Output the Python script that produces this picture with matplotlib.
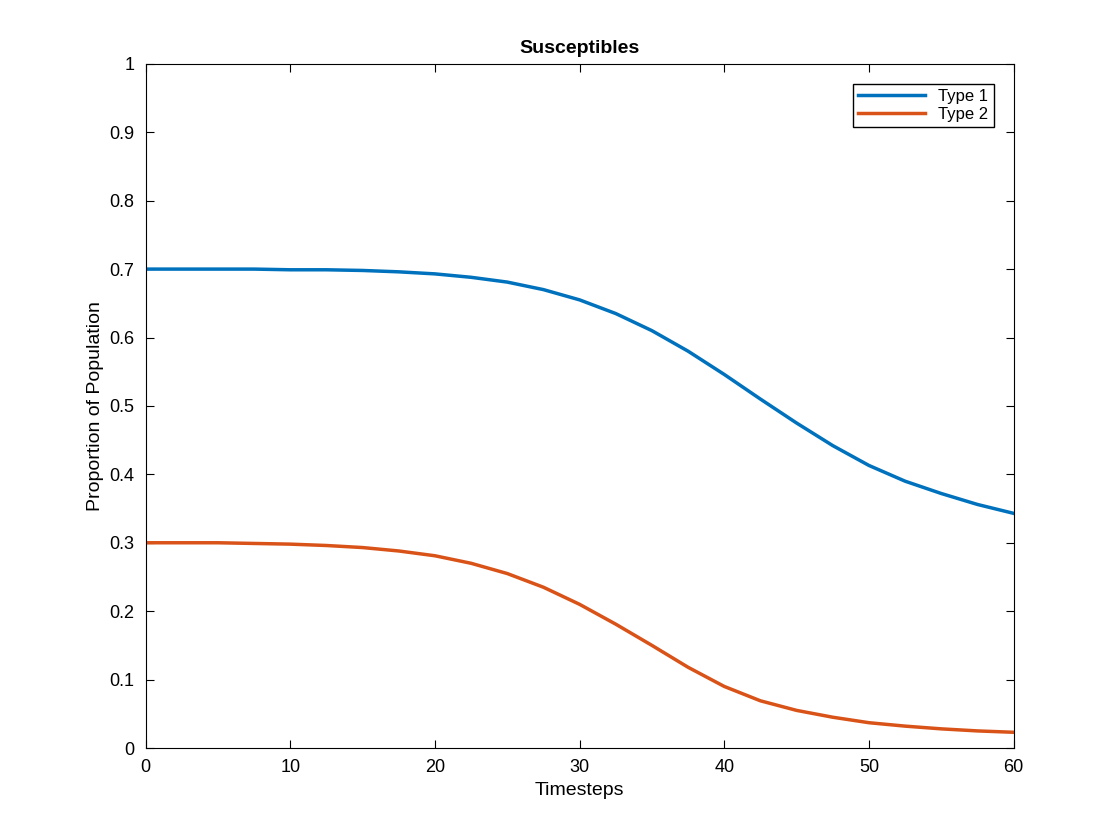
import numpy as np
import matplotlib
matplotlib.use("Agg")
import matplotlib.pyplot as plt

plt.rcParams['font.family'] = ['Liberation Sans', 'DejaVu Sans']

# values, every 2.5 timesteps
timesteps = np.arange(0, 60.01, 2.5)
type1 = [0.700, 0.700, 0.700, 0.700, 0.699, 0.699, 0.698, 0.696, 0.693, 0.688,
         0.681, 0.670, 0.655, 0.635, 0.610, 0.580, 0.546, 0.510, 0.475, 0.442,
         0.413, 0.390, 0.372, 0.356, 0.343]
type2 = [0.300, 0.300, 0.300, 0.299, 0.298, 0.296, 0.293, 0.288, 0.281, 0.270,
         0.255, 0.235, 0.210, 0.181, 0.150, 0.118, 0.090, 0.069, 0.055, 0.045,
         0.037, 0.032, 0.028, 0.025, 0.023]

fig = plt.figure(figsize=(11.2, 8.4), dpi=100)
ax = fig.add_axes([0.130, 0.1095, 0.775, 0.8145])
ax.plot(timesteps, type1, color='#0072BD', lw=2.5, label='Type 1')
ax.plot(timesteps, type2, color='#D95319', lw=2.5, label='Type 2')

ax.set_xlim(0, 60)
ax.set_ylim(0, 1)
ax.set_xticks(np.arange(0, 61, 10))
ax.set_yticks(np.arange(0, 1.01, 0.1))
ax.set_yticklabels(['0'] + [f'{v:.1f}' for v in np.arange(0.1, 0.95, 0.1)] + ['1'])
ax.tick_params(direction='in', top=True, right=True, labelsize=13, length=6, pad=8)
ax.set_xlabel('Timesteps', fontsize=14)
ax.set_ylabel('Proportion of Population', fontsize=14)
ax.set_title('Susceptibles', fontsize=14, fontweight='bold', pad=8)
ax.legend(loc='upper right', fontsize=12, fancybox=False, edgecolor='black',
          framealpha=1, handlelength=4, borderaxespad=1.2, borderpad=0.3,
          labelspacing=0.2)

fig.savefig('out.png')
